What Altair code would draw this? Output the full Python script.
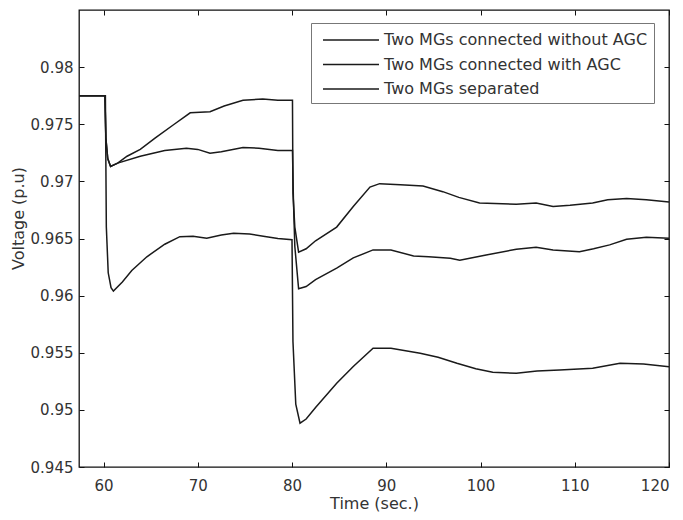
import altair as alt
import pandas as pd

series_names = [
    "Two MGs connected without AGC",
    "Two MGs connected with AGC",
    "Two MGs separated",
]

t_a = [57.4, 60.15, 60.25, 60.45, 60.75, 61.5, 62.5, 63.9, 65.5, 67.5, 69.2, 71.3, 72.8, 74.8, 76.9, 78.5, 80.05,
       80.1, 80.3, 80.7, 81.5, 82.5, 84.74, 86.5, 88.27, 89.3, 91.5, 93.9, 96.0, 97.7, 99.9, 103.8, 105.9, 107.7,
       109.5, 111.9, 113.5, 115.5, 117.6, 120.0]
v_a = [0.9775, 0.9775, 0.9738, 0.9720, 0.9713, 0.9716, 0.9722, 0.9728, 0.9738, 0.9750, 0.9760, 0.9761, 0.9766,
       0.9771, 0.9772, 0.9771, 0.9771,
       0.9690, 0.9660, 0.9638, 0.9641, 0.9648, 0.9660, 0.9678, 0.9695, 0.9698, 0.9697, 0.9696, 0.9691, 0.9686,
       0.9681, 0.9680, 0.9681, 0.9678, 0.9679, 0.9681, 0.9684, 0.9685, 0.9684, 0.9682]

t_b = [57.4, 60.15, 60.25, 60.45, 60.75, 61.5, 63.9, 66.5, 68.8, 70.0, 71.3, 72.5, 74.8, 76.5, 78.5, 80.05,
       80.15, 80.3, 80.7, 81.5, 82.5, 84.74, 86.5, 88.6, 90.5, 92.9, 94.5, 96.8, 97.8, 100.6, 103.8, 105.9, 107.7,
       110.5, 112.0, 113.7, 115.5, 117.6, 120.0]
v_b = [0.9775, 0.9775, 0.9738, 0.9720, 0.9713, 0.9716, 0.9722, 0.9727, 0.9729, 0.9728, 0.97246, 0.9726, 0.97296,
       0.9729, 0.9727, 0.9727,
       0.9684, 0.9643, 0.9606, 0.9608, 0.9614, 0.9624, 0.9633, 0.9640, 0.9640, 0.96347, 0.9634, 0.96327, 0.9631,
       0.96356, 0.96406, 0.96424, 0.9640, 0.96385, 0.9641, 0.96444, 0.96494, 0.96511, 0.96503]

t_c = [57.4, 60.2, 60.3, 60.5, 60.8, 61.05, 62.0, 63.0, 64.6, 66.5, 68.1, 69.5, 70.95, 72.5, 73.8, 75.5, 76.96,
       78.5, 80.0,
       80.1, 80.4, 80.85, 81.5, 82.5, 84.74, 86.5, 88.6, 90.5, 93.6, 95.5, 97.5, 99.5, 101.3, 103.8, 106.0, 108.4,
       111.9, 114.8, 117.3, 120.0]
v_c = [0.9775, 0.9775, 0.9660, 0.9620, 0.9607, 0.9604, 0.9612, 0.9622, 0.9634, 0.9645, 0.96516, 0.9652, 0.96502,
       0.9653, 0.96546, 0.9654, 0.9652, 0.9650, 0.9649,
       0.9560, 0.9505, 0.94883, 0.9492, 0.9502, 0.95233, 0.9538, 0.95539, 0.9554, 0.95496, 0.9546, 0.95408,
       0.9536, 0.95329, 0.9532, 0.9534, 0.95349, 0.95364, 0.95408, 0.95402, 0.95378]

x_ticks = [60, 70, 80, 90, 100, 110, 120]
y_ticks = [0.945, 0.95, 0.955, 0.96, 0.965, 0.97, 0.975, 0.98]

rows = []
for name, ts, vs in zip(series_names, [t_a, t_b, t_c], [v_a, v_b, v_c]):
    for i, (t, v) in enumerate(zip(ts, vs)):
        rows.append({"series": name, "t": t, "v": v, "order": i})
df = pd.DataFrame(rows)

W, H = 590, 457
FONT = "DejaVu Sans"
TXT = "#333333"

xs = alt.Scale(domain=[57.4, 120], nice=False, zero=False)
ys = alt.Scale(domain=[0.945, 0.985], nice=False, zero=False)

main = alt.Chart(df).mark_line(strokeWidth=1.5).encode(
    x=alt.X("t:Q", scale=xs, title="Time (sec.)",
            axis=alt.Axis(values=x_ticks, format="d", orient="bottom", grid=False, domain=False,
                          tickSize=0, labelPadding=11, labelFont=FONT, labelFontSize=15,
                          labelColor=TXT, titleFont=FONT, titleFontSize=16, titleColor=TXT,
                          titleFontWeight="normal", titleBaseline="alphabetic", titleY=41)),
    y=alt.Y("v:Q", scale=ys, title="Voltage (p.u)",
            axis=alt.Axis(values=y_ticks, format=".3~f", orient="left", grid=False, domain=False,
                          tickSize=0, labelPadding=6, labelFont=FONT, labelFontSize=15,
                          labelColor=TXT, titleFont=FONT, titleFontSize=16, titleColor=TXT,
                          titleFontWeight="normal", titlePadding=4, titleY=208)),
    color=alt.Color("series:N", sort=series_names,
                    scale=alt.Scale(domain=series_names, range=["#1a1a1a", "#1a1a1a", "#1a1a1a"]),
                    legend=alt.Legend(title=None, orient="none", legendX=232, legendY=13,
                                      symbolType="M-0.5,0H5.1", symbolSize=400, symbolStrokeWidth=1.5,
                                      labelFont=FONT, labelFontSize=16, labelColor=TXT, labelLimit=0,
                                      strokeColor="#777777", padding=6, rowPadding=5.5,
                                      fillColor="white", labelOffset=45)),
    order="order:Q",
)

tick_ax = dict(grid=False, domain=False, labels=False, ticks=True, tickSize=5, tickColor="#111111",
               tickWidth=1, title=None)

inner1 = alt.Chart(df).mark_line(strokeOpacity=0).encode(
    x=alt.X("t:Q", scale=xs, axis=alt.Axis(values=x_ticks, orient="top", offset=-H, **tick_ax)),
    y=alt.Y("v:Q", scale=ys, axis=alt.Axis(values=y_ticks, orient="right", offset=-W, **tick_ax)),
    detail="series:N",
)
inner2 = alt.Chart(df).mark_line(strokeOpacity=0).encode(
    x=alt.X("t:Q", scale=xs, axis=alt.Axis(values=x_ticks, orient="bottom", offset=-H, **tick_ax)),
    y=alt.Y("v:Q", scale=ys, axis=alt.Axis(values=y_ticks, orient="left", offset=-W, **tick_ax)),
    detail="series:N",
)

chart = alt.layer(main, inner1, inner2).resolve_axis(x="independent", y="independent").properties(
    width=W, height=H,
    autosize=alt.AutoSizeParams(type="none"),
    padding={"left": 71, "top": 2, "right": 6, "bottom": 45},
    background="white",
).configure_view(stroke="#111111", strokeWidth=1.3)

chart.save("out.html", embed_options={"renderer": "svg", "actions": False})
